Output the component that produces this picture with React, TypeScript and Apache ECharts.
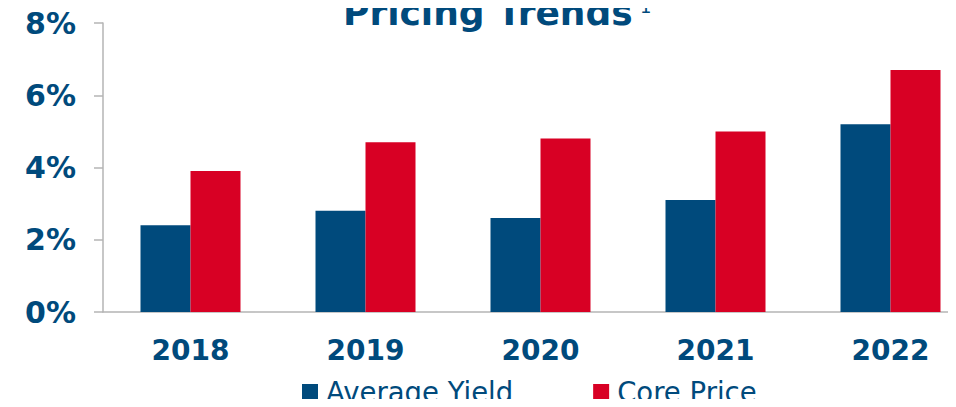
import React, { useEffect, useRef } from "react";
import * as echarts from "echarts";

const categories = ["2018", "2019", "2020", "2021", "2022"];
const averageYield = [2.4, 2.8, 2.6, 3.1, 5.2];
const corePrice = [3.9, 4.7, 4.8, 5.0, 6.7];
const yTicks = { min: 0, max: 8, interval: 2 };

const BLUE = "#004A7C";
const RED = "#D80024";
const FONT = "'DejaVu Sans', Verdana, sans-serif";

export default function App() {
  const ref = useRef<HTMLDivElement>(null);
  useEffect(() => {
    if (!ref.current) return;
    const chart = echarts.init(ref.current, null, { renderer: "svg" });
    chart.setOption({
      animation: false,
      backgroundColor: "#ffffff",
      graphic: [
        {
          type: "text",
          left: 343,
          top: -6,
          style: {
            text: "Pricing Trends",
            font: `bold 36px ${FONT}`,
            fill: BLUE,
          },
        },
        {
          type: "text",
          left: 640,
          top: -3,
          style: {
            text: "1",
            font: `18px ${FONT}`,
            fill: BLUE,
          },
        },
      ],
      legend: {
        left: 302,
        top: 378,
        padding: 0,
        itemWidth: 16,
        itemHeight: 16,
        itemGap: 80,
        icon: "rect",
        textStyle: { color: BLUE, fontSize: 27.5, fontFamily: FONT, padding: [0, 0, 0, 3] },
        data: ["Average Yield", "Core Price"],
      },
      grid: {
        left: 103,
        top: 23,
        width: 875,
        height: 289,
        containLabel: false,
        outerBoundsMode: "none",
      },
      xAxis: {
        type: "category",
        data: categories,
        axisLine: { show: true, lineStyle: { color: "#b4b4b4", width: 1.5 } },
        axisTick: { show: false },
        axisLabel: {
          color: BLUE,
          fontSize: 28,
          fontWeight: "bold",
          fontFamily: FONT,
          margin: 24,
        },
      },
      yAxis: {
        type: "value",
        min: yTicks.min,
        max: yTicks.max,
        interval: yTicks.interval,
        splitLine: { show: false },
        axisLine: { show: true, lineStyle: { color: "#b4b4b4", width: 1.5 } },
        axisTick: { show: true, length: 9, lineStyle: { color: "#b4b4b4", width: 1.5 } },
        axisLabel: {
          formatter: "{value}%",
          color: BLUE,
          fontSize: 30,
          fontWeight: "bold",
          fontFamily: FONT,
          margin: 27,
        },
      },
      series: [
        {
          name: "Average Yield",
          type: "bar",
          data: averageYield,
          barWidth: 50,
          barGap: "0%",
          itemStyle: { color: BLUE },
        },
        {
          name: "Core Price",
          type: "bar",
          data: corePrice,
          barWidth: 50,
          barGap: "0%",
          itemStyle: { color: RED },
        },
      ],
    });
    return () => chart.dispose();
  }, []);
  return <div ref={ref} style={{ width: 956, height: 407, margin: -8 }} />;
}
